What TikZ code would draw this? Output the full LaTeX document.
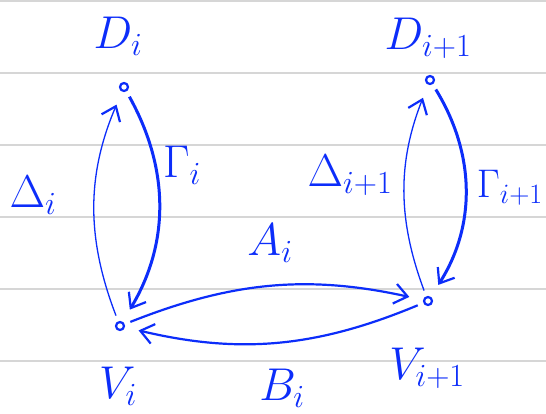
\RequirePackage{fix-cm}
\documentclass[tikz,border=0pt]{standalone}
\usetikzlibrary{arrows.meta}
\definecolor{ink}{RGB}{12,45,250}
\definecolor{ruling}{RGB}{214,214,214}
\begin{document}
\begin{tikzpicture}[
  x=1pt, y=-1pt,
  font=\fontsize{46}{50}\selectfont,
  vertex/.style={circle, draw=ink, line width=2.2pt, minimum size=8pt,
                 inner sep=0pt},
  lbl/.style={text=ink, inner sep=0pt},
  edge/.style={draw=ink, line width=2.2pt, shorten >=14pt, shorten <=6pt,
               -{Straight Barb[length=13pt,width=20pt,line width=2.2pt]}},
  thin edge/.style={edge, line width=1.3pt},
  thick edge/.style={edge, line width=3pt},
  rule/.style={draw=ruling, line width=2.5pt}
]
\useasboundingbox[fill=white] (0,0) rectangle (546,413);

% ruled paper
\foreach \y in {1,73,145,217,289,361}
  \draw[rule] (0,\y) -- (546,\y);

% vertices
\node[vertex] (di) at (124,87) {};
\node[vertex] (dn) at (430,80) {};
\node[vertex] (vi) at (120,326) {};
\node[vertex] (vn) at (428,301) {};

% vertex labels
\node[lbl] (dilbl) at (118,36) {$D_i$};
\node[lbl] (dnlbl) at (428,38) {$D_{i+1}$};
\node[lbl] (vilbl) at (118,386) {$V_i$};
\node[lbl] (vnlbl) at (427,368) {$V_{i+1}$};

% edge labels
\node[lbl] (delta) at (33,195) {$\Delta_i$};
\node[lbl] (gamma) at (182,165) {$\Gamma_i$};
\node[lbl] (deltan) at (350,175) {$\Delta_{i+1}$};
\node[lbl, anchor=east, font=\fontsize{40}{44}\selectfont] (gamman)
  at (543,188) {$\Gamma_{i+1}$};
\node[lbl] (albl) at (270,243) {$A_i$};
\node[lbl] (blbl) at (282,388) {$B_i$};

% vertical pairs
\draw[thin edge] (vi) to[bend left=22] (di);
\draw[thick edge] (di) to[bend left=30] (vi);
\draw[thin edge] (vn) to[bend left=21] (dn);
\draw[thick edge] (dn) to[bend left=32] (vn);

% horizontal pair
\draw[edge] (vi) to[bend left=17] (vn);
\draw[edge] (vn) to[bend left=18] (vi);
\end{tikzpicture}
\end{document}
